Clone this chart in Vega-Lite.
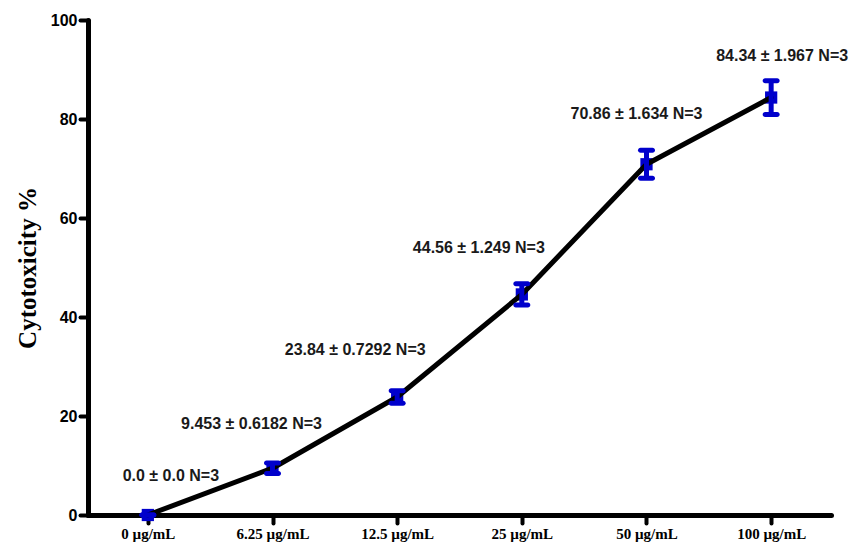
{
  "$schema": "https://vega.github.io/schema/vega-lite/v6.json",
  "autosize": {"type": "none"},
  "padding": {"left": 88, "top": 20, "right": 28, "bottom": 29},
  "width": 743,
  "height": 495,
  "background": "white",
  "config": {
    "view": {"stroke": null},
    "axis": {
      "labelColor": "black",
      "labelFontWeight": "bold",
      "labelPadding": 3,
      "tickSize": 8,
      "tickWidth": 4,
      "tickCap": "round",
      "tickColor": "black",
      "domainWidth": 5,
      "domainCap": "round",
      "domainColor": "black",
      "grid": false,
      "titleColor": "black"
    },
    "axisX": {"labelFont": "Liberation Serif", "labelFontSize": 15, "labelAngle": 0, "zindex": 1},
    "axisY": {"labelFont": "Liberation Sans", "labelFontSize": 16, "titleFont": "Liberation Serif", "titleFontSize": 25, "titleFontWeight": "bold", "titlePadding": 10}
  },
  "data": {
    "values": [
      {"conc": "0 µg/mL", "mean": 0.0, "lo": 0.0, "hi": 0.0, "label": "0.0 ± 0.0 N=3"},
      {"conc": "6.25 µg/mL", "mean": 9.453, "lo": 8.38, "hi": 10.52, "label": "9.453 ± 0.6182 N=3"},
      {"conc": "12.5 µg/mL", "mean": 23.84, "lo": 22.58, "hi": 25.10, "label": "23.84 ± 0.7292 N=3"},
      {"conc": "25 µg/mL", "mean": 44.56, "lo": 42.40, "hi": 46.72, "label": "44.56 ± 1.249 N=3"},
      {"conc": "50 µg/mL", "mean": 70.86, "lo": 68.03, "hi": 73.69, "label": "70.86 ± 1.634 N=3"},
      {"conc": "100 µg/mL", "mean": 84.34, "lo": 80.93, "hi": 87.75, "label": "84.34 ± 1.967 N=3"}
    ]
  },
  "encoding": {
    "x": {
      "field": "conc",
      "type": "ordinal",
      "sort": ["0 µg/mL", "6.25 µg/mL", "12.5 µg/mL", "25 µg/mL", "50 µg/mL", "100 µg/mL"],
      "scale": {"type": "point", "padding": 0.48},
      "axis": {"title": null}
    }
  },
  "layer": [
    {
      "mark": {"type": "point", "shape": "square", "filled": true, "size": 150, "color": "#0000cc", "opacity": 1},
      "encoding": {
        "y": {
          "field": "mean",
          "type": "quantitative",
          "scale": {"domain": [0, 100], "nice": false},
          "axis": {"values": [0, 20, 40, 60, 80, 100], "title": "Cytotoxicity %"}
        }
      }
    },
    {
      "mark": {"type": "line", "color": "black", "strokeWidth": 5, "strokeCap": "round", "strokeJoin": "round"},
      "encoding": {"y": {"field": "mean", "type": "quantitative"}}
    },
    {
      "mark": {"type": "rule", "color": "#0000cc", "strokeWidth": 5},
      "encoding": {
        "y": {"field": "lo", "type": "quantitative"},
        "y2": {"field": "hi"}
      }
    },
    {
      "mark": {"type": "tick", "orient": "horizontal", "color": "#0000cc", "size": 17, "thickness": 5, "cornerRadius": 2.5, "opacity": 1},
      "encoding": {"y": {"field": "lo", "type": "quantitative"}}
    },
    {
      "mark": {"type": "tick", "orient": "horizontal", "color": "#0000cc", "size": 17, "thickness": 5, "cornerRadius": 2.5, "opacity": 1},
      "encoding": {"y": {"field": "hi", "type": "quantitative"}}
    },
    {
      "transform": [{"filter": "datum.mean == 0"}],
      "mark": {"type": "text", "font": "Liberation Sans", "fontWeight": "bold", "fontSize": 16, "color": "#1a1a1a", "dx": 23, "dy": -39, "baseline": "middle"},
      "encoding": {"y": {"field": "mean", "type": "quantitative"}, "text": {"field": "label"}}
    },
    {
      "transform": [{"filter": "datum.mean == 9.453"}],
      "mark": {"type": "text", "font": "Liberation Sans", "fontWeight": "bold", "fontSize": 16, "color": "#1a1a1a", "dx": -21, "dy": -44, "baseline": "middle"},
      "encoding": {"y": {"field": "mean", "type": "quantitative"}, "text": {"field": "label"}}
    },
    {
      "transform": [{"filter": "datum.mean == 23.84"}],
      "mark": {"type": "text", "font": "Liberation Sans", "fontWeight": "bold", "fontSize": 16, "color": "#1a1a1a", "dx": -42, "dy": -47, "baseline": "middle"},
      "encoding": {"y": {"field": "mean", "type": "quantitative"}, "text": {"field": "label"}}
    },
    {
      "transform": [{"filter": "datum.mean == 44.56"}],
      "mark": {"type": "text", "font": "Liberation Sans", "fontWeight": "bold", "fontSize": 16, "color": "#1a1a1a", "dx": -43, "dy": -46, "baseline": "middle"},
      "encoding": {"y": {"field": "mean", "type": "quantitative"}, "text": {"field": "label"}}
    },
    {
      "transform": [{"filter": "datum.mean == 70.86"}],
      "mark": {"type": "text", "font": "Liberation Sans", "fontWeight": "bold", "fontSize": 16, "color": "#1a1a1a", "dx": -10, "dy": -50, "baseline": "middle"},
      "encoding": {"y": {"field": "mean", "type": "quantitative"}, "text": {"field": "label"}}
    },
    {
      "transform": [{"filter": "datum.mean == 84.34"}],
      "mark": {"type": "text", "font": "Liberation Sans", "fontWeight": "bold", "fontSize": 16, "color": "#1a1a1a", "dx": 11, "dy": -42, "baseline": "middle"},
      "encoding": {"y": {"field": "mean", "type": "quantitative"}, "text": {"field": "label"}}
    }
  ]
}
